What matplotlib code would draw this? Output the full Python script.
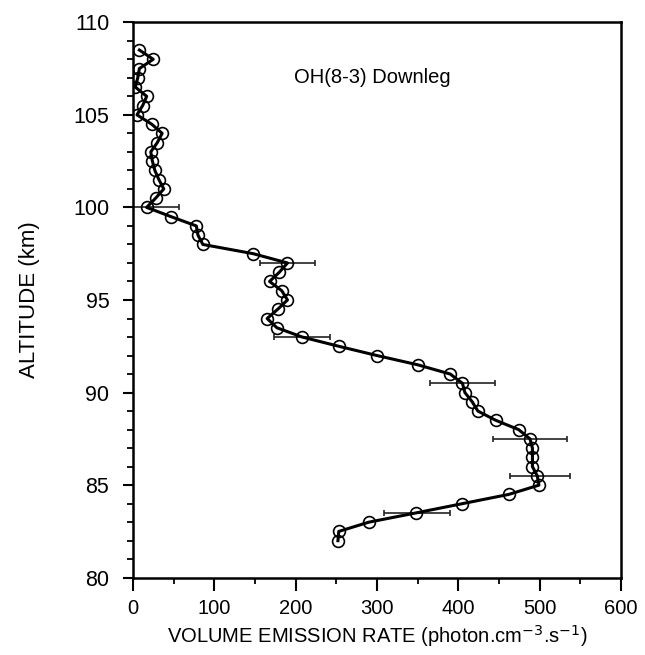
"""
  OH(8-3) downleg volume emission rate profile.
"""

import numpy as np
import matplotlib
matplotlib.use('Agg')
from matplotlib import pyplot as plt
from matplotlib.ticker import MultipleLocator

# altitude (km) and emission rate
altitude = [108.5, 108, 107.5, 107, 106.5, 106, 105.5, 105, 104.5, 104,
            103.5, 103, 102.5, 102, 101.5, 101, 100.5, 100, 99.5, 99,
            98.5, 98, 97.5, 97, 96.5, 96, 95.5, 95, 94.5, 94,
            93.5, 93, 92.5, 92, 91.5, 91, 90.5, 90, 89.5, 89,
            88.5, 88, 87.5, 87, 86.5, 86, 85.5, 85, 84.5, 84,
            83.5, 83, 82.5, 82]
emission = [8, 25, 8, 6, 3, 17, 12, 5, 23, 36,
            30, 22, 24, 27, 32, 38, 28, 17, 47, 78,
            80, 86, 148, 190, 180, 168, 183, 190, 178, 165,
            177, 208, 253, 300, 350, 390, 405, 408, 417, 424,
            446, 474, 488, 491, 491, 491, 497, 499, 462, 405,
            348, 290, 253, 252]

# error bars at a few altitudes
err_alt = [100, 97, 93, 90.5, 87.5, 85.5, 83.5]
err_x = [17, 190, 208, 405, 488, 500, 349]
err_half = [40, 34, 34, 40, 46, 37, 41]

plt.rcParams['font.family'] = ['Liberation Sans', 'DejaVu Sans']

fig = plt.figure(figsize=(6.45, 6.55), dpi=100)
ax = fig.add_axes([0.206, 0.118, 0.757, 0.848])

ax.errorbar(err_x, err_alt, xerr=err_half, fmt='none', ecolor='#222222',
            elinewidth=1.2, capsize=2.5, capthick=1.2, zorder=2)
ax.plot(emission, altitude, '-', color='black', lw=2.2, zorder=3)
ax.plot(emission, altitude, 'o', mfc='none', mec='black', mew=1.2,
        ms=8.5, zorder=4)

ax.set_xlim(0, 600)
ax.set_ylim(80, 110)
ax.xaxis.set_major_locator(MultipleLocator(100))
ax.xaxis.set_minor_locator(MultipleLocator(50))
ax.yaxis.set_major_locator(MultipleLocator(5))
ax.yaxis.set_minor_locator(MultipleLocator(1))
ax.tick_params(axis='x', which='major', direction='out', length=9, width=1.5,
               labelsize=14.5, pad=6, top=False)
ax.tick_params(axis='y', which='major', direction='out', length=7, width=1.5,
               labelsize=15.5, pad=10, right=False)
ax.tick_params(which='minor', direction='out', length=4, width=1.3,
               top=False, right=False)
for sp in ax.spines.values():
    sp.set_linewidth(1.8)

ax.set_xlabel('VOLUME EMISSION RATE (photon.cm$^{-3}$.s$^{-1}$)',
              fontsize=14.5, labelpad=4)
ax.set_ylabel('ALTITUDE (km)', fontsize=16, labelpad=24)
ax.text(294, 107, 'OH(8-3) Downleg', fontsize=14.5, ha='center', va='center')

fig.savefig('out.png', dpi=100)
